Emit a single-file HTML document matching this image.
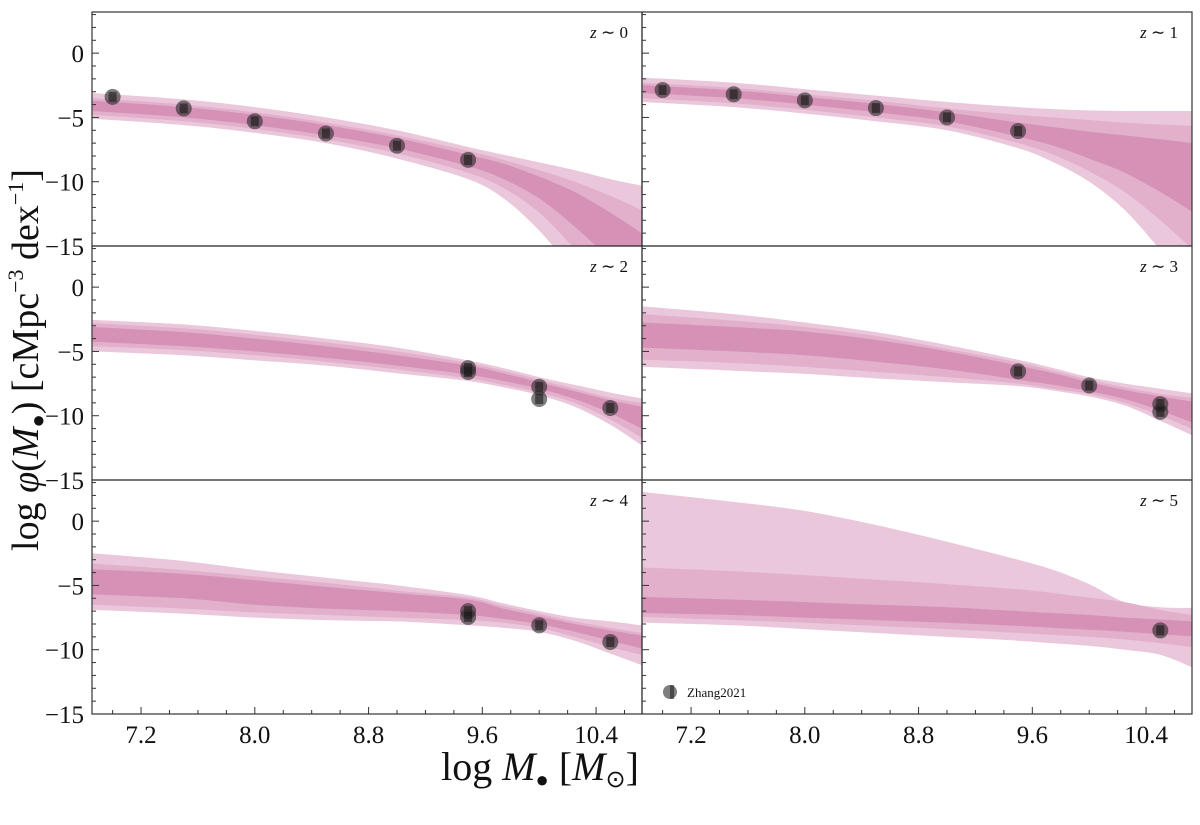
<!DOCTYPE html>
<html><head><meta charset="utf-8"><style>
body{margin:0;background:#fff}
svg text{font-family:"Liberation Serif",serif;fill:#111}
</style></head><body>
<svg id="fig" width="1200" height="820" viewBox="0 0 1200 820" xmlns="http://www.w3.org/2000/svg"></svg>
<script>
const xGrid=[6.86,7.5,8.0,8.5,9.0,9.5,9.75,10.0,10.25,10.5,10.72];
const panelLabels=["0","1","2","3","4","5"];
const xTicks=[7.2,8.0,8.8,9.6,10.4];
const xTickLabels=["7.2","8.0","8.8","9.6","10.4"];
const yTicks=[-15,-10,-5,0];
const yTickLabels=["\u221215","\u221210","\u22125","0"];
const hi3=[[-3.1,-3.6,-4.2,-5.0,-6.0,-7.3,-7.9,-8.5,-9.1,-9.8,-10.3],[-1.9,-2.3,-2.8,-3.3,-3.8,-4.2,-4.35,-4.45,-4.5,-4.5,-4.5],[-2.55,-2.9,-3.4,-4.0,-4.7,-5.7,-6.3,-7.0,-7.6,-8.2,-8.65],[-1.5,-2.1,-2.75,-3.5,-4.5,-5.65,-6.3,-7.0,-7.5,-7.9,-8.25],[-2.5,-3.1,-3.8,-4.4,-5.0,-5.75,-6.4,-7.0,-7.5,-7.8,-8.1],[2.27,1.5,0.8,-0.3,-1.6,-3.0,-3.8,-4.9,-6.3,-6.7,-6.75]];
const hi2=[[-3.5,-4.0,-4.6,-5.4,-6.4,-7.6,-8.3,-9.1,-10.0,-11.1,-12.2],[-2.3,-2.7,-3.2,-3.7,-4.3,-4.8,-5.0,-5.2,-5.4,-5.55,-5.65],[-2.8,-3.2,-3.7,-4.3,-5.0,-5.9,-6.5,-7.2,-7.9,-8.6,-9.0],[-2.1,-2.6,-3.1,-3.8,-4.8,-5.85,-6.5,-7.2,-7.8,-8.3,-8.6],[-3.3,-3.8,-4.3,-4.8,-5.4,-5.95,-6.6,-7.2,-7.8,-8.3,-8.7],[-3.6,-3.9,-4.2,-4.55,-4.9,-5.3,-5.6,-5.95,-6.3,-6.9,-7.3]];
const hi1=[[-3.7,-4.2,-4.8,-5.6,-6.6,-7.9,-8.6,-9.6,-10.8,-12.4,-14.0],[-2.5,-2.9,-3.4,-3.95,-4.6,-5.4,-5.75,-6.1,-6.4,-6.7,-7.0],[-3.1,-3.5,-4.0,-4.6,-5.3,-6.1,-6.7,-7.4,-8.1,-8.8,-9.3],[-2.75,-3.1,-3.45,-4.1,-5.0,-6.1,-6.7,-7.4,-8.0,-8.5,-8.9],[-3.75,-4.1,-4.6,-5.1,-5.6,-6.1,-6.8,-7.4,-8.0,-8.5,-8.9],[-5.9,-6.1,-6.3,-6.5,-6.7,-7.0,-7.15,-7.3,-7.5,-7.65,-7.8]];
const lo1=[[-4.5,-5.0,-5.6,-6.4,-7.4,-8.8,-9.8,-11.3,-13.5,-16,-18],[-3.1,-3.5,-4.0,-4.6,-5.3,-6.5,-7.2,-8.2,-9.3,-10.8,-12.3],[-4.25,-4.6,-5.0,-5.5,-6.1,-6.8,-7.3,-7.9,-8.7,-9.8,-11.0],[-4.7,-5.0,-5.3,-5.8,-6.4,-7.2,-7.6,-8.1,-8.7,-9.6,-10.5],[-5.7,-6.0,-6.5,-6.8,-7.0,-7.3,-7.6,-8.0,-8.6,-9.3,-9.9],[-7.15,-7.3,-7.5,-7.7,-7.9,-8.15,-8.3,-8.45,-8.6,-8.8,-8.95]];
const lo2=[[-4.8,-5.3,-5.9,-6.7,-7.8,-9.3,-10.5,-12.4,-15.2,-18,-20],[-3.5,-3.9,-4.4,-5.0,-5.7,-7.0,-7.9,-9.2,-10.8,-13.0,-15.2],[-4.6,-4.9,-5.3,-5.8,-6.4,-7.1,-7.6,-8.2,-9.0,-10.3,-11.7],[-5.65,-5.9,-6.2,-6.6,-7.0,-7.5,-7.9,-8.3,-9.0,-10.0,-11.0],[-6.5,-6.8,-7.1,-7.3,-7.5,-7.7,-7.9,-8.3,-9.0,-9.8,-10.4],[-7.45,-7.7,-7.9,-8.15,-8.4,-8.7,-8.85,-9.0,-9.2,-9.5,-9.8]];
const lo3=[[-5.1,-5.6,-6.2,-7.0,-8.2,-9.8,-11.3,-13.8,-17,-20,-22],[-3.8,-4.2,-4.7,-5.3,-6.0,-7.4,-8.5,-10.0,-12.2,-15.3,-18],[-5.0,-5.3,-5.7,-6.1,-6.7,-7.3,-7.8,-8.4,-9.3,-10.7,-12.3],[-6.2,-6.5,-6.75,-7.1,-7.4,-7.7,-8.05,-8.5,-9.2,-10.4,-11.5],[-6.9,-7.2,-7.5,-7.7,-7.8,-8.1,-8.3,-8.6,-9.3,-10.3,-11.2],[-7.9,-8.1,-8.4,-8.7,-9.0,-9.3,-9.5,-9.7,-10.0,-10.4,-11.35]];
const ptX=[[7.0,7.5,8.0,8.5,9.0,9.5],[7.0,7.5,8.0,8.5,9.0,9.5],[9.5,9.5,10.0,10.0,10.5],[9.5,10.0,10.5,10.5],[9.5,9.5,10.0,10.5],[10.5]];
const ptY=[[-3.4,-4.3,-5.3,-6.25,-7.2,-8.3],[-2.87,-3.2,-3.67,-4.27,-5.0,-6.06],[-6.3,-6.6,-7.75,-8.7,-9.4],[-6.55,-7.65,-9.1,-9.7],[-7.0,-7.45,-8.1,-9.4],[-8.5]];

const NS="http://www.w3.org/2000/svg";
const svg=document.getElementById('fig');
function mk(t,a,p){const e=document.createElementNS(NS,t);for(const k in a)e.setAttribute(k,a[k]);(p||svg).appendChild(e);return e;}
function smooth(pts){ // catmull-rom -> bezier, continuing path
  let d='';
  for(let i=0;i<pts.length-1;i++){
    const p0=pts[Math.max(0,i-1)],p1=pts[i],p2=pts[i+1],p3=pts[Math.min(pts.length-1,i+2)];
    const c1=[p1[0]+(p2[0]-p0[0])/6,p1[1]+(p2[1]-p0[1])/6];
    const c2=[p2[0]-(p3[0]-p1[0])/6,p2[1]-(p3[1]-p1[1])/6];
    d+=' C'+c1[0].toFixed(1)+','+c1[1].toFixed(1)+' '+c2[0].toFixed(1)+','+c2[1].toFixed(1)+' '+p2[0].toFixed(1)+','+p2[1].toFixed(1);
  }
  return d;
}
const colX=[92,642],rowY=[12,246,480],PW=550,PH=234;
const X0=6.855,X1=10.723,Y0=-15,Y1=3.2;
const defs=mk('defs',{});
for(let p=0;p<6;p++){
  const c=p%2,r=Math.floor(p/2),ox=colX[c],oy=rowY[r];
  const sx=v=>ox+(v-X0)/(X1-X0)*PW, sy=v=>oy+PH-(v-Y0)/(Y1-Y0)*PH;
  const cp=mk('clipPath',{id:'cp'+p},defs);mk('rect',{x:ox,y:oy,width:PW,height:PH},cp);
  const g=mk('g',{'clip-path':'url(#cp'+p+')'});
  
  
  const bands=[[lo3,hi3,'#ebc7dc','outer-band'],[lo2,hi2,'#e2b0cb','middle-band'],[lo1,hi1,'#d591b6','inner-band']];
  bands.forEach(b=>{
    const up=xGrid.map((x,i)=>[sx(x),sy(b[1][p][i])]);
    const dn=xGrid.map((x,i)=>[sx(x),sy(b[0][p][i])]).reverse();
    let d='M'+up[0][0].toFixed(1)+','+up[0][1].toFixed(1)+smooth(up)+' L'+dn[0][0].toFixed(1)+','+dn[0][1].toFixed(1)+smooth(dn)+' Z';
    const e=mk('path',{d:d,fill:b[2]},g);
    
    
  });
  ptX[p].forEach((x,i)=>{
    const pg=mk('g',{},g);
    
    
    mk('circle',{cx:sx(x),cy:sy(ptY[p][i]),r:8,fill:'rgba(40,40,40,0.6)'},pg);
    mk('rect',{x:sx(x)-4,y:sy(ptY[p][i])-5,width:8,height:10,fill:'rgba(20,20,20,0.55)'},pg);
  });
  const fr=mk('rect',{x:ox,y:oy,width:PW,height:PH,fill:'none',stroke:'#333','stroke-width':1.2});
  
  
  for(let v=-15;v<=3;v++){const maj=v%5===0;mk('line',{x1:ox,x2:ox+(maj?7:4),y1:sy(v),y2:sy(v),stroke:'#333','stroke-width':1});}
  if(r===2){for(let v=7.0;v<=10.71;v+=0.2){const maj=xTicks.some(t=>Math.abs(t-v)<1e-6);mk('line',{x1:sx(v),x2:sx(v),y1:oy+PH,y2:oy+PH-(maj?7:4),stroke:'#333','stroke-width':1});}
    xTicks.forEach((t,i)=>{const e=mk('text',{x:sx(t),y:oy+PH+29,'text-anchor':'middle','font-size':25});e.textContent=xTickLabels[i];
      
      });}
  if(c===0){yTicks.forEach((t,i)=>{const e=mk('text',{x:ox-8,y:sy(t)+9,'text-anchor':'end','font-size':25});e.textContent=yTickLabels[i];
      
      });}
  const lt=mk('text',{x:ox+PW-14,y:oy+26,'text-anchor':'end','font-size':17});
  lt.innerHTML='<tspan font-style="italic">z</tspan> \u223C '+panelLabels[p];
  
  
}
const yl=mk('text',{x:0,y:0,transform:'translate(38,360) rotate(-90)','text-anchor':'middle','font-size':38});
yl.innerHTML='log <tspan font-style="italic">\u03C6</tspan>(<tspan font-style="italic">M</tspan><tspan font-size="22" dy="7">\u25CF</tspan><tspan dy="-7">) [cMpc</tspan><tspan font-size="22" dy="-15">\u22123</tspan><tspan dy="15"> dex</tspan><tspan font-size="22" dy="-15">\u22121</tspan><tspan dy="15">]</tspan>';


const xl=mk('text',{x:540,y:780,'text-anchor':'middle','font-size':40});
xl.innerHTML='log <tspan font-style="italic">M</tspan><tspan font-size="22" dy="7">\u25CF</tspan><tspan dy="-7"> [</tspan><tspan font-style="italic">M</tspan><tspan font-size="24" dy="7">\u2299</tspan><tspan dy="-7">]</tspan>';


const lg=mk('g',{});


mk('circle',{cx:670,cy:692,r:7,fill:'rgba(40,40,40,0.6)'},lg);
mk('rect',{x:670,y:685,width:4,height:14,fill:'rgba(20,20,20,0.5)'},lg);
const lgt=mk('text',{x:687,y:697,'font-size':13},lg);lgt.textContent='Zhang2021';
</script>
</body></html>
